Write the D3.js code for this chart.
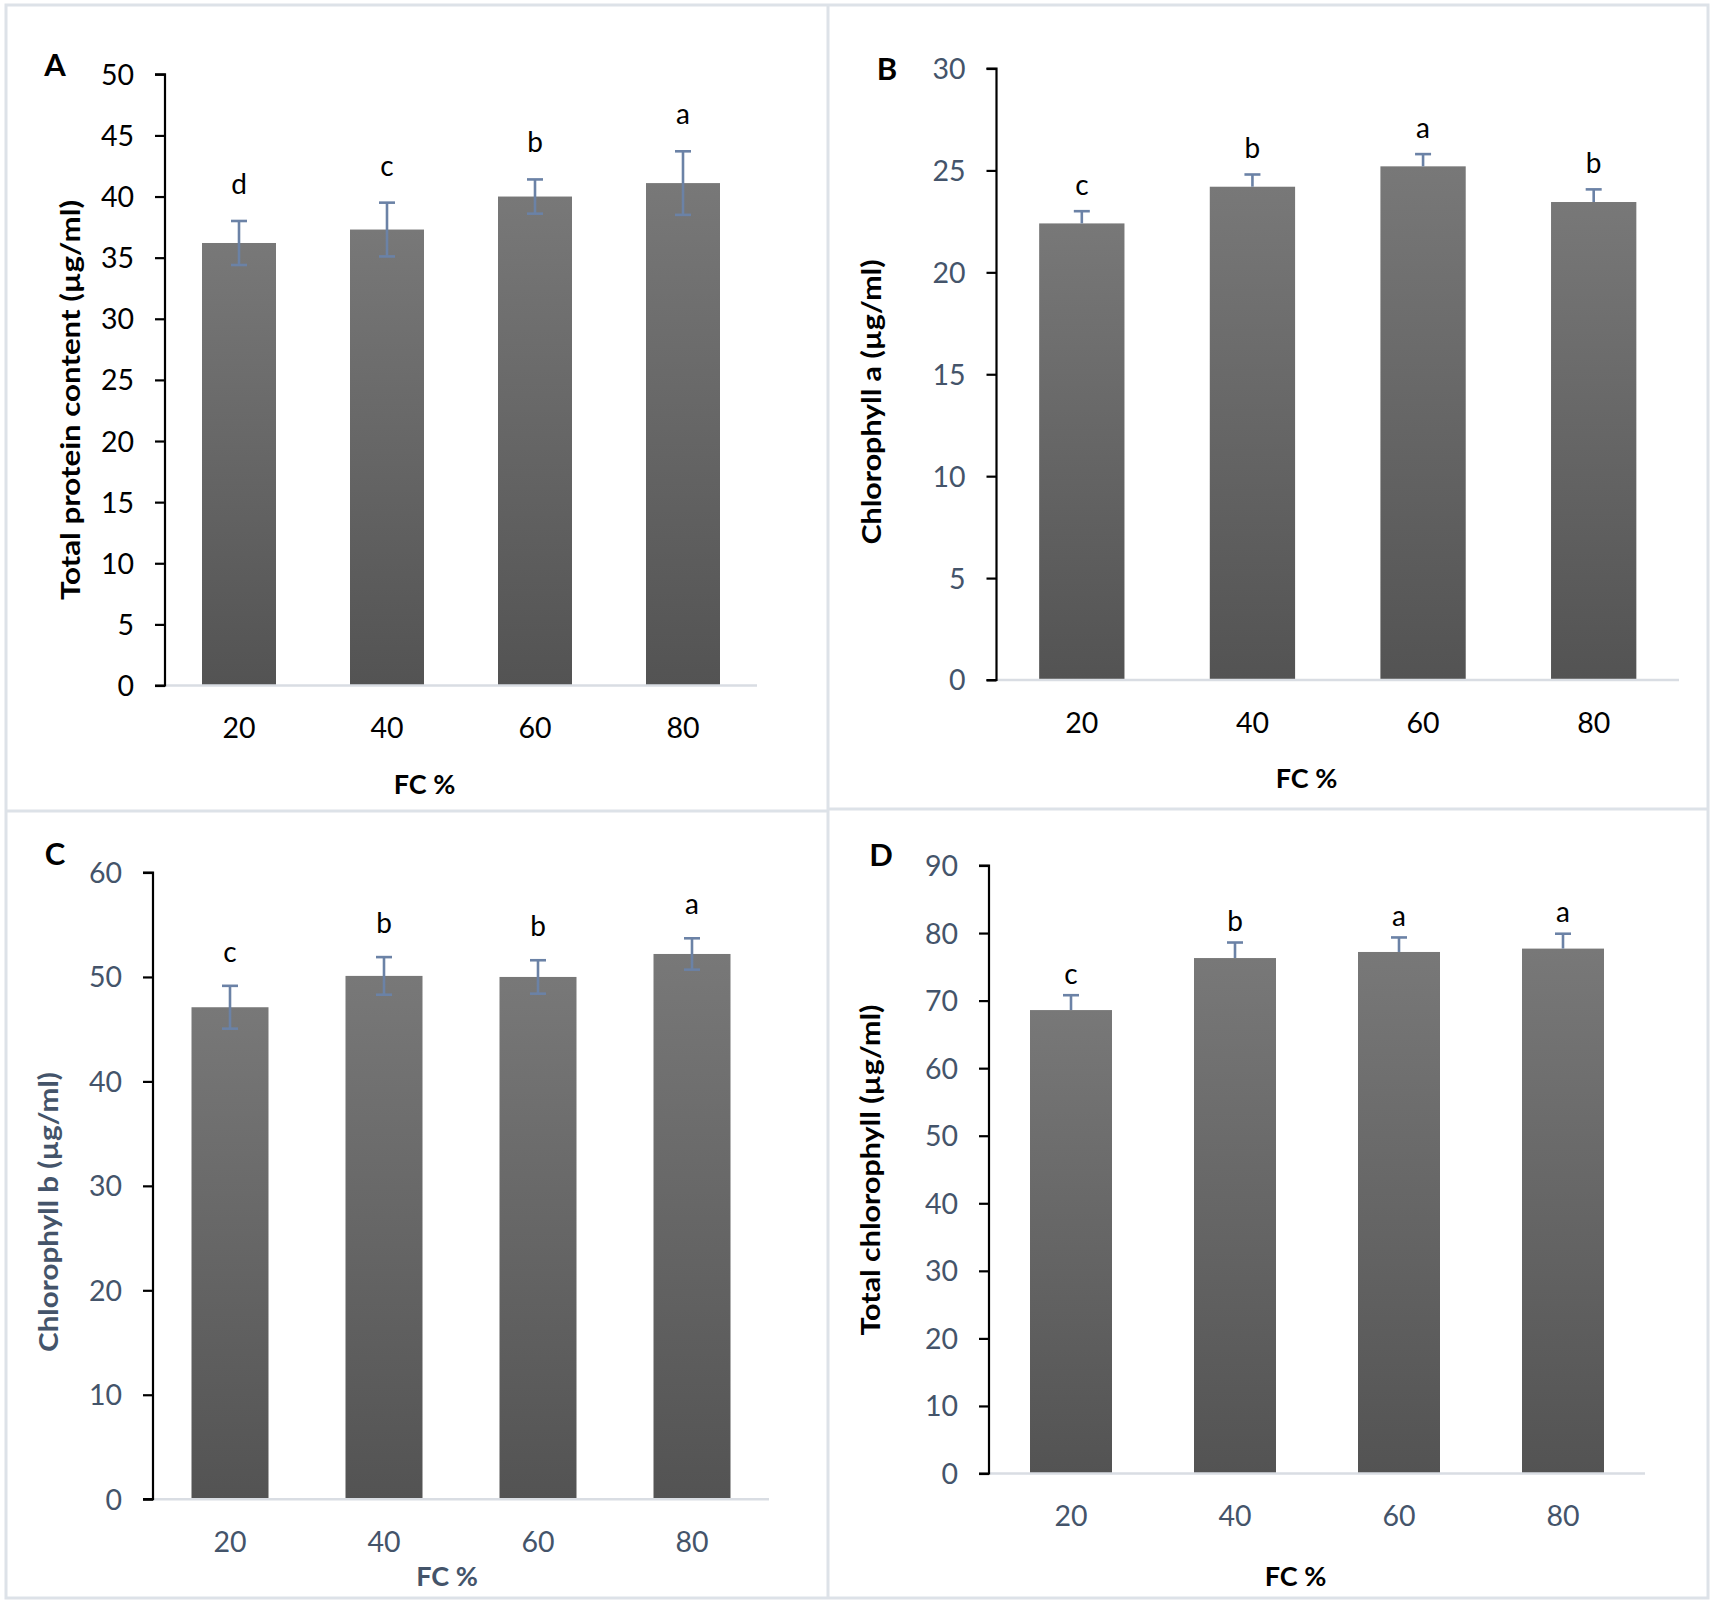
<!DOCTYPE html>
<html><head><meta charset="utf-8">
<script src="https://cdn.jsdelivr.net/npm/d3@7"></script>
<style>body{margin:0;background:#fff} svg{display:block}</style>
</head><body>
<svg id="c" width="1715" height="1605"></svg>
<script>
// ---- data ----
const categories = ["20", "40", "60", "80"];
const proteinMean = [36.2, 37.3, 40.0, 41.1];
const proteinErr = [1.8, 2.2, 1.4, 2.6];
const proteinLetters = ["d", "c", "b", "a"];
const chlAMean = [22.4, 24.2, 25.2, 23.45];
const chlAErr = [0.6, 0.6, 0.6, 0.62];
const chlALetters = ["c", "b", "a", "b"];
const chlBMean = [47.1, 50.1, 50.0, 52.2];
const chlBErr = [2.05, 1.8, 1.6, 1.5];
const chlBLetters = ["c", "b", "b", "a"];
const totalMean = [68.6, 76.3, 77.2, 77.7];
const totalErr = [2.2, 2.3, 2.15, 2.2];
const totalLetters = ["c", "b", "a", "a"];
const ticksA = [0, 5, 10, 15, 20, 25, 30, 35, 40, 45, 50];
const ticksB = [0, 5, 10, 15, 20, 25, 30];
const ticksC = [0, 10, 20, 30, 40, 50, 60];
const ticksD = [0, 10, 20, 30, 40, 50, 60, 70, 80, 90];
const xTitle = "FC %";

// ---- layout / style ----
const BLUEGRAY = "#44546A";
const FONT = "Lato, 'Open Sans', sans-serif";
const panels = [
  {tag:"A", mean:proteinMean, err:proteinErr, letters:proteinLetters, ticks:ticksA,
   x0:165, x1:757, yTop:74.3, y0:685.5, both:true, yTickColor:"#000", xTickColor:"#000",
   yLabel:"Total protein content  (µg/ml)", ylx:70, yly:400, yll:400, ylColor:"#000",
   fcx:424.5, fcy:783, fcColor:"#000", tagx:55, tagy:64, gap:27},
  {tag:"B", mean:chlAMean, err:chlAErr, letters:chlALetters, ticks:ticksB,
   x0:996.5, x1:1679, yTop:68.5, y0:680, both:false, yTickColor:BLUEGRAY, xTickColor:"#000",
   yLabel:"Chlorophyll a (µg/ml)", ylx:871, yly:402, yll:285, ylColor:"#000",
   fcx:1306.5, fcy:777.7, fcColor:"#000", tagx:887, tagy:68, gap:16},
  {tag:"C", mean:chlBMean, err:chlBErr, letters:chlBLetters, ticks:ticksC,
   x0:153, x1:769, yTop:872.5, y0:1499.2, both:true, yTickColor:BLUEGRAY, xTickColor:BLUEGRAY,
   yLabel:"Chlorophyll b (µg/ml)", ylx:48, yly:1212, yll:280, ylColor:BLUEGRAY,
   fcx:447, fcy:1575, fcColor:BLUEGRAY, tagx:55, tagy:852.5, gap:24},
  {tag:"D", mean:totalMean, err:totalErr, letters:totalLetters, ticks:ticksD,
   x0:989, x1:1645, yTop:865.5, y0:1473.5, both:false, yTickColor:BLUEGRAY, xTickColor:BLUEGRAY,
   yLabel:"Total chlorophyll (µg/ml)", ylx:870, yly:1170, yll:331, ylColor:"#000",
   fcx:1295.5, fcy:1575, fcColor:"#000", tagx:881, tagy:854, gap:11.5}
];

const svg = d3.select("#c");
svg.append("rect").attr("width",1715).attr("height",1605).attr("fill","#fff");

const defs = svg.append("defs");
const grad = defs.append("linearGradient").attr("id","barGrad")
  .attr("x1",0).attr("y1",0).attr("x2",0).attr("y2",1);
grad.append("stop").attr("offset","0%").attr("stop-color","#787878");
grad.append("stop").attr("offset","100%").attr("stop-color","#535353");

// frame
const BORDER = "#DDE2E8";
svg.append("rect").attr("x",6).attr("y",5).attr("width",1702).attr("height",1593)
  .attr("fill","none").attr("stroke",BORDER).attr("stroke-width",3);
svg.append("line").attr("x1",828).attr("x2",828).attr("y1",5).attr("y2",1598)
  .attr("stroke",BORDER).attr("stroke-width",3);
svg.append("line").attr("x1",6).attr("x2",828).attr("y1",811).attr("y2",811)
  .attr("stroke",BORDER).attr("stroke-width",3);
svg.append("line").attr("x1",828).attr("x2",1708).attr("y1",809).attr("y2",809)
  .attr("stroke",BORDER).attr("stroke-width",3);

panels.forEach(p => {
  const g = svg.append("g");
  const x = d3.scaleBand().domain(categories).range([p.x0, p.x1])
    .paddingInner(0.5).paddingOuter(0.25);
  const y = d3.scaleLinear().domain([0, p.ticks[p.ticks.length-1]]).range([p.y0, p.yTop]);
  const rows = categories.map((c,i) => ({c, m:p.mean[i], e:p.err[i], l:p.letters[i]}));

  // bars
  g.selectAll("rect.bar").data(rows).join("rect").attr("class","bar")
    .attr("x", d => x(d.c)).attr("width", x.bandwidth())
    .attr("y", d => y(d.m)).attr("height", d => y(0) - y(d.m))
    .attr("fill","url(#barGrad)");

  // x axis line (light)
  g.append("line").attr("x1",p.x0).attr("x2",p.x1).attr("y1",y(0)).attr("y2",y(0))
    .attr("stroke","#D9DDE3").attr("stroke-width",2.5);

  // y axis
  const yAxis = d3.axisLeft(y).tickValues(p.ticks).tickSize(10).tickPadding(21)
    .tickFormat(d3.format("d"));
  const ya = g.append("g").attr("transform",`translate(${p.x0},0)`).call(yAxis);
  ya.select(".domain").attr("stroke","#000").attr("stroke-width",2.2)
    .attr("d", `M-10,${y(0)}H0V${p.yTop}H-10`);
  ya.selectAll(".tick line").attr("stroke","#000").attr("stroke-width",2.2);
  ya.selectAll(".tick text").attr("fill",p.yTickColor).attr("font-family",FONT)
    .attr("font-size",28.5).attr("dy","0.35em");

  // x axis labels
  const xAxis = d3.axisBottom(x).tickSize(0).tickPadding(0);
  const xa = g.append("g").attr("transform",`translate(0,${y(0)})`).call(xAxis);
  xa.select(".domain").remove();
  xa.selectAll(".tick text").attr("fill",p.xTickColor).attr("font-family",FONT)
    .attr("font-size",28.5).attr("dy",null).attr("y",41.5).attr("dominant-baseline","central");

  // error bars
  const EC = "#6B82A6", cap = 8;
  const eb = g.selectAll("g.err").data(rows).join("g").attr("class","err")
    .attr("stroke",EC).attr("stroke-width",2.6).attr("fill","none");
  eb.append("line")
    .attr("x1", d => x(d.c)+x.bandwidth()/2).attr("x2", d => x(d.c)+x.bandwidth()/2)
    .attr("y1", d => y(d.m + d.e)).attr("y2", d => p.both ? y(d.m - d.e) : y(d.m));
  eb.append("line")
    .attr("x1", d => x(d.c)+x.bandwidth()/2-cap).attr("x2", d => x(d.c)+x.bandwidth()/2+cap)
    .attr("y1", d => y(d.m + d.e)).attr("y2", d => y(d.m + d.e));
  if (p.both) {
    eb.append("line")
      .attr("x1", d => x(d.c)+x.bandwidth()/2-cap).attr("x2", d => x(d.c)+x.bandwidth()/2+cap)
      .attr("y1", d => y(d.m - d.e)).attr("y2", d => y(d.m - d.e));
  }

  // significance letters
  g.selectAll("text.sig").data(rows).join("text").attr("class","sig")
    .attr("x", d => x(d.c)+x.bandwidth()/2).attr("y", d => y(d.m + d.e) - p.gap)
    .attr("text-anchor","middle").attr("font-family",FONT).attr("font-size",28)
    .attr("fill","#000").text(d => d.l);

  // y label
  g.append("text").attr("transform",`translate(${p.ylx},${p.yly}) rotate(-90)`)
    .attr("text-anchor","middle").attr("dominant-baseline","central")
    .attr("font-family",FONT).attr("font-weight","bold").attr("font-size",26)
    .attr("fill",p.ylColor).attr("textLength",p.yll).attr("lengthAdjust","spacingAndGlyphs")
    .text(p.yLabel);

  // x title
  g.append("text").attr("x",p.fcx).attr("y",p.fcy).attr("text-anchor","middle")
    .attr("dominant-baseline","central").attr("font-family",FONT).attr("font-weight","bold")
    .attr("font-size",27).attr("fill",p.fcColor).text(xTitle);

  // panel tag
  g.append("text").attr("x",p.tagx).attr("y",p.tagy).attr("text-anchor","middle")
    .attr("dominant-baseline","central").attr("font-family",FONT).attr("font-weight","bold")
    .attr("font-size",31).attr("fill","#000").text(p.tag);
});
</script>
</body></html>
